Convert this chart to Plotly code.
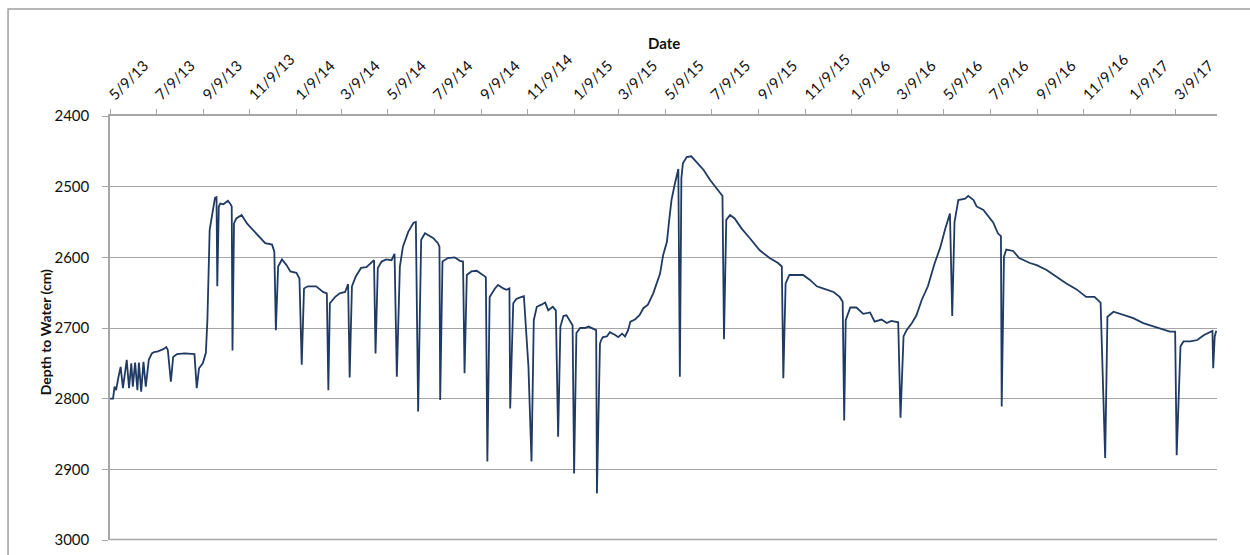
import plotly.graph_objects as go

# Depth-to-water record, well hydrograph
dates = [
    "2013-05-09", "2013-05-13", "2013-05-15", "2013-05-17", "2013-05-20", "2013-05-23", "2013-05-26",
    "2013-05-31", "2013-06-03", "2013-06-06", "2013-06-08", "2013-06-11", "2013-06-14", "2013-06-16",
    "2013-06-19", "2013-06-22", "2013-06-25", "2013-06-29", "2013-07-03", "2013-07-06", "2013-07-11",
    "2013-07-18", "2013-07-22", "2013-07-24", "2013-07-28", "2013-07-31", "2013-08-05", "2013-08-15",
    "2013-08-28", "2013-08-31", "2013-09-03", "2013-09-08", "2013-09-12", "2013-09-14", "2013-09-17",
    "2013-09-22", "2013-09-24", "2013-09-26", "2013-09-27", "2013-09-29", "2013-10-01", "2013-10-05",
    "2013-10-09", "2013-10-11", "2013-10-14", "2013-10-16", "2013-10-17", "2013-10-19", "2013-10-22",
    "2013-10-29", "2013-11-05", "2013-11-13", "2013-11-22", "2013-11-29", "2013-12-08", "2013-12-11",
    "2013-12-13", "2013-12-16", "2013-12-21", "2013-12-27", "2014-01-01", "2014-01-09", "2014-01-13",
    "2014-01-16", "2014-01-19", "2014-01-24", "2014-02-04", "2014-02-13", "2014-02-18", "2014-02-20",
    "2014-02-22", "2014-03-01", "2014-03-07", "2014-03-14", "2014-03-18", "2014-03-20", "2014-03-23",
    "2014-03-28", "2014-04-04", "2014-04-11", "2014-04-21", "2014-04-23", "2014-04-26", "2014-05-01",
    "2014-05-07", "2014-05-14", "2014-05-18", "2014-05-21", "2014-05-25", "2014-05-29", "2014-06-05",
    "2014-06-12", "2014-06-15", "2014-06-18", "2014-06-22", "2014-06-27", "2014-07-08", "2014-07-14",
    "2014-07-16", "2014-07-17", "2014-07-20", "2014-07-27", "2014-08-05", "2014-08-12", "2014-08-16",
    "2014-08-18", "2014-08-21", "2014-08-27", "2014-09-03", "2014-09-12", "2014-09-15", "2014-09-17",
    "2014-09-20", "2014-09-27", "2014-10-01", "2014-10-08", "2014-10-12", "2014-10-16", "2014-10-17",
    "2014-10-21", "2014-10-25", "2014-11-01", "2014-11-04", "2014-11-10", "2014-11-14", "2014-11-17",
    "2014-11-21", "2014-11-27", "2014-12-02", "2014-12-06", "2014-12-12", "2014-12-16", "2014-12-19",
    "2014-12-22", "2014-12-26", "2014-12-30", "2015-01-03", "2015-01-07", "2015-01-09", "2015-01-12",
    "2015-01-17", "2015-01-23", "2015-01-28", "2015-02-01", "2015-02-07", "2015-02-08", "2015-02-12",
    "2015-02-14", "2015-02-16", "2015-02-21", "2015-02-25", "2015-03-04", "2015-03-08", "2015-03-13",
    "2015-03-17", "2015-03-21", "2015-03-24", "2015-03-30", "2015-04-05", "2015-04-10", "2015-04-16",
    "2015-04-23", "2015-04-27", "2015-05-02", "2015-05-06", "2015-05-11", "2015-05-14", "2015-05-17",
    "2015-05-21", "2015-05-26", "2015-05-28", "2015-05-30", "2015-06-01", "2015-06-06", "2015-06-12",
    "2015-06-19", "2015-06-28", "2015-07-07", "2015-07-13", "2015-07-20", "2015-07-23", "2015-07-25",
    "2015-07-28", "2015-08-02", "2015-08-08", "2015-08-17", "2015-08-28", "2015-09-10", "2015-09-23",
    "2015-10-04", "2015-10-09", "2015-10-11", "2015-10-14", "2015-10-19", "2015-10-31", "2015-11-06",
    "2015-11-15", "2015-11-24", "2015-12-02", "2015-12-16", "2015-12-24", "2015-12-28", "2015-12-30",
    "2016-01-01", "2016-01-07", "2016-01-15", "2016-01-24", "2016-02-02", "2016-02-08", "2016-02-17",
    "2016-02-24", "2016-03-01", "2016-03-10", "2016-03-13", "2016-03-17", "2016-03-21", "2016-03-28",
    "2016-04-03", "2016-04-10", "2016-04-18", "2016-04-27", "2016-05-04", "2016-05-11", "2016-05-17",
    "2016-05-20", "2016-05-23", "2016-05-28", "2016-06-06", "2016-06-10", "2016-06-17", "2016-06-21",
    "2016-06-30", "2016-07-13", "2016-07-19", "2016-07-23", "2016-07-24", "2016-07-27", "2016-07-30",
    "2016-08-08", "2016-08-16", "2016-08-30", "2016-09-08", "2016-09-21", "2016-10-04", "2016-10-17",
    "2016-10-30", "2016-11-12", "2016-11-23", "2016-12-01", "2016-12-07", "2016-12-10", "2016-12-18",
    "2016-12-31", "2017-01-13", "2017-01-26", "2017-02-04", "2017-02-17", "2017-03-02", "2017-03-09",
    "2017-03-11", "2017-03-16", "2017-03-20", "2017-03-29", "2017-04-07", "2017-04-16", "2017-04-24",
    "2017-04-27", "2017-04-28", "2017-04-30", "2017-05-02",
]

depth_cm = [
    2800, 2800, 2783, 2788, 2770, 2755, 2785,
    2745, 2785, 2750, 2783, 2749, 2788, 2749,
    2790, 2748, 2783, 2745, 2736, 2734, 2733,
    2730, 2727, 2731, 2776, 2741, 2737, 2736,
    2737, 2785, 2757, 2750, 2735, 2689, 2561,
    2524, 2516, 2515, 2641, 2528, 2524, 2525,
    2521, 2520, 2524, 2528, 2732, 2552, 2545,
    2540, 2552, 2561, 2571, 2580, 2582, 2592,
    2703, 2613, 2603, 2611, 2620, 2622, 2630,
    2752, 2644, 2641, 2641, 2649, 2651, 2788,
    2665, 2656, 2651, 2649, 2638, 2770, 2641,
    2627, 2615, 2614, 2604, 2736, 2615, 2606,
    2603, 2604, 2595, 2769, 2613, 2585, 2564,
    2551, 2550, 2818, 2575, 2566, 2573, 2580,
    2585, 2802, 2606, 2601, 2600, 2605, 2606,
    2764, 2625, 2620, 2619, 2626, 2628, 2889,
    2656, 2644, 2639, 2644, 2646, 2644, 2814,
    2665, 2659, 2656, 2655, 2755, 2889, 2689,
    2670, 2667, 2664, 2675, 2670, 2675, 2854,
    2698, 2683, 2682, 2689, 2696, 2906, 2707,
    2700, 2700, 2698, 2700, 2703, 2934, 2722,
    2716, 2713, 2712, 2706, 2710, 2713, 2708,
    2712, 2703, 2691, 2688, 2682, 2672, 2667,
    2651, 2639, 2623, 2597, 2578, 2547, 2519,
    2498, 2475, 2769, 2488, 2467, 2458, 2457,
    2465, 2476, 2491, 2500, 2509, 2513, 2716,
    2547, 2540, 2545, 2559, 2573, 2590, 2601,
    2608, 2613, 2771, 2637, 2625, 2625, 2625,
    2632, 2641, 2644, 2649, 2656, 2663, 2831,
    2689, 2671, 2671, 2680, 2678, 2691, 2688,
    2693, 2690, 2692, 2827, 2712, 2703, 2693,
    2682, 2660, 2641, 2608, 2587, 2559, 2538,
    2683, 2550, 2519, 2517, 2513, 2519, 2528,
    2533, 2551, 2566, 2570, 2811, 2599, 2589,
    2591, 2601, 2608, 2611, 2618, 2628, 2637,
    2645, 2656, 2656, 2664, 2884, 2684, 2677,
    2682, 2686, 2693, 2696, 2700, 2705, 2705,
    2880, 2726, 2719, 2719, 2717, 2710, 2705,
    2704, 2757, 2712, 2704,
]

# Date axis: a tick every two months
tick_dates = [
    "2013-05-09", "2013-07-09", "2013-09-09", "2013-11-09", "2014-01-09", "2014-03-09",
    "2014-05-09", "2014-07-09", "2014-09-09", "2014-11-09", "2015-01-09", "2015-03-09",
    "2015-05-09", "2015-07-09", "2015-09-09", "2015-11-09", "2016-01-09", "2016-03-09",
    "2016-05-09", "2016-07-09", "2016-09-09", "2016-11-09", "2017-01-09", "2017-03-09",
]
tick_labels = [
    "5/9/13", "7/9/13", "9/9/13", "11/9/13", "1/9/14", "3/9/14",
    "5/9/14", "7/9/14", "9/9/14", "11/9/14", "1/9/15", "3/9/15",
    "5/9/15", "7/9/15", "9/9/15", "11/9/15", "1/9/16", "3/9/16",
    "5/9/16", "7/9/16", "9/9/16", "11/9/16", "1/9/17", "3/9/17",
]
depth_ticks = [2400, 2500, 2600, 2700, 2800, 2900, 3000]

GRID = "#a6a6a6"
FONT = "Lato, 'Open Sans', sans-serif"
TEXT = "#111111"

fig = go.Figure()
fig.add_trace(go.Scatter(
    x=dates, y=depth_cm, mode="lines",
    line=dict(color="#1f3a63", width=1.8),
    showlegend=False,
))

fig.update_layout(
    width=1250, height=555,
    margin=dict(l=110, r=33, t=116, b=15, autoexpand=False),
    paper_bgcolor="white", plot_bgcolor="white",
    font=dict(family=FONT, color=TEXT, size=15),
    xaxis=dict(
        type="date", side="top", automargin=False,
        range=["2013-05-09", "2017-05-03"],
        tickmode="array", tickvals=tick_dates, ticktext=tick_labels,
        tickangle=-45, ticks="outside", ticklen=5, tickcolor=GRID, tickwidth=1,
        showgrid=False, showline=True, linecolor=GRID, linewidth=1.5,
        tickfont=dict(size=15, color=TEXT), zeroline=False,
    ),
    yaxis=dict(
        range=[3000, 2400], tickmode="array", tickvals=depth_ticks,
        automargin=False,
        ticks="outside", ticklen=6, tickcolor=GRID, tickwidth=1,
        ticklabelstandoff=10,
        showgrid=True, gridcolor=GRID, gridwidth=1,
        showline=True, linecolor=GRID, linewidth=1.5,
        zeroline=False, tickfont=dict(size=15, color=TEXT),
    ),
    annotations=[
        dict(text="<b>Date</b>", xref="paper", yref="paper", x=0.5, y=1.172,
             xanchor="center", yanchor="middle", showarrow=False,
             font=dict(size=15, family=FONT, color=TEXT)),
        dict(text="<b>Depth to Water (cm)</b>", xref="paper", yref="paper",
             x=-0.0587, y=0.49, textangle=-90, xanchor="center", yanchor="middle",
             showarrow=False, font=dict(size=14, family=FONT, color=TEXT)),
    ],
    shapes=[
        # gridline along the bottom edge (3000 cm)
        dict(type="line", xref="paper", yref="paper", x0=0, x1=1, y0=0.001, y1=0.001,
             line=dict(color=GRID, width=1.5), layer="above"),
        # outer chart frame
        dict(type="rect", xref="paper", yref="paper",
             x0=-0.0921, x1=1.04, y0=-0.06, y1=1.2524,
             line=dict(color="#a0a0a0", width=1.5), fillcolor="rgba(0,0,0,0)",
             layer="below"),
    ],
)

fig.write_html("out.html")
